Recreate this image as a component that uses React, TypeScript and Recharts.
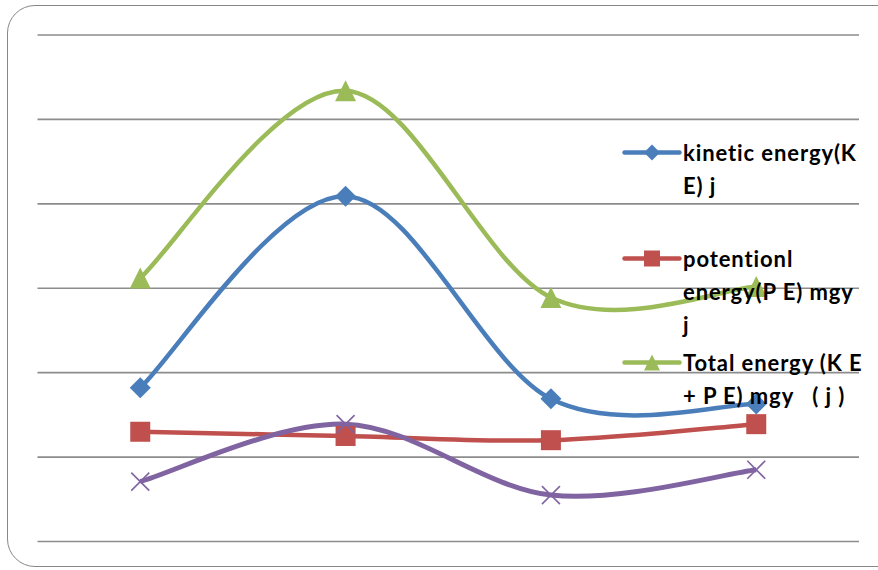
import { LineChart, Line, XAxis, YAxis, CartesianGrid, Legend } from 'recharts';

const points = ['1', '2', '3', '4'];
const kinetic = [18.2, 40.9, 16.9, 16.3];
const potential = [13.0, 12.5, 12.0, 13.9];
const total = [31.2, 53.4, 28.9, 30.2];
const fourth = [7.1, 13.9, 5.5, 8.5];
const yTicks = [0, 10, 20, 30, 40, 50, 60];

const legendLines = {
  kinetic: ['kinetic energy(K', 'E) j'],
  potential: ['potentionl', 'energy(P E) mgy', 'j'],
  total: ['Total energy (K E', '+ P E) mgy\u00a0\u00a0\u00a0( j )'],
};

const BLUE = '#4a7ebb';
const RED = '#c0504d';
const GREEN = '#9bbb59';
const PURPLE = '#8064a2';
const GRID = '#8c8c8c';

const data = points.map((p, i) => ({
  p,
  kinetic: kinetic[i],
  potential: potential[i],
  total: total[i],
  fourth: fourth[i],
}));

// Catmull-Rom style bezier, close to the office "smoothed line"
function smoothCurve(context: any) {
  let pts: [number, number][] = [];
  return {
    areaStart() {},
    areaEnd() {},
    lineStart() {
      pts = [];
    },
    lineEnd() {
      if (!pts.length) return;
      context.moveTo(pts[0][0], pts[0][1]);
      for (let i = 0; i < pts.length - 1; i++) {
        const p0 = pts[Math.max(i - 1, 0)];
        const p1 = pts[i];
        const p2 = pts[i + 1];
        const p3 = pts[Math.min(i + 2, pts.length - 1)];
        context.bezierCurveTo(
          p1[0] + (p2[0] - p0[0]) / 6,
          p1[1] + (p2[1] - p0[1]) / 6,
          p2[0] - (p3[0] - p1[0]) / 6,
          p2[1] - (p3[1] - p1[1]) / 6,
          p2[0],
          p2[1]
        );
      }
    },
    point(x: number, y: number) {
      pts.push([x, y]);
    },
  };
}

function Diamond({ cx, cy, r = 10, color = BLUE }: any) {
  if (cx == null || cy == null) return null;
  return <polygon points={`${cx},${cy - r} ${cx + r},${cy} ${cx},${cy + r} ${cx - r},${cy}`} fill={color} />;
}

function Square({ cx, cy, r = 10, color = RED }: any) {
  if (cx == null || cy == null) return null;
  return <rect x={cx - r} y={cy - r} width={r * 2} height={r * 2} fill={color} />;
}

function Triangle({ cx, cy, r = 10, color = GREEN }: any) {
  if (cx == null || cy == null) return null;
  return <polygon points={`${cx},${cy - r} ${cx + r},${cy + r} ${cx - r},${cy + r}`} fill={color} />;
}

function Cross({ cx, cy, r = 9, color = PURPLE }: any) {
  if (cx == null || cy == null) return null;
  return (
    <g stroke={color} strokeWidth={1.6}>
      <line x1={cx - r} y1={cy - r} x2={cx + r} y2={cy + r} />
      <line x1={cx - r} y1={cy + r} x2={cx + r} y2={cy - r} />
    </g>
  );
}

const legendItems = [
  { key: 'kinetic', color: BLUE, Marker: Diamond, top: 0, r: 8 },
  { key: 'potential', color: RED, Marker: Square, top: 106, r: 8 },
  { key: 'total', color: GREEN, Marker: Triangle, top: 210, r: 8 },
];

function EnergyLegend() {
  return (
    <div style={{ position: 'relative', width: 256, height: 290 }}>
      {legendItems.map(({ key, color, Marker, top, r }) => (
        <div key={key} style={{ position: 'absolute', left: 0, top }}>
          <svg width={60} height={33} style={{ position: 'absolute', left: 0, top: 0 }}>
            <line x1={2.5} y1={16.5} x2={57.5} y2={16.5} stroke={color} strokeWidth={4.5} strokeLinecap="round" />
            <Marker cx={30} cy={16.5} r={r} color={color} />
          </svg>
          <div
            style={{
              position: 'absolute',
              left: 61,
              top: 0,
              whiteSpace: 'nowrap',
              fontFamily: 'Lato, "Noto Sans", sans-serif',
              fontWeight: 700,
              fontSize: 22,
              letterSpacing: 0.9,
              lineHeight: '33px',
              color: '#000',
            }}
          >
            {legendLines[key as keyof typeof legendLines].map((t) => (
              <div key={t}>{t}</div>
            ))}
          </div>
        </div>
      ))}
    </div>
  );
}

export default function App() {
  return (
    <div style={{ position: 'relative', width: 878, height: 570, overflow: 'hidden', background: '#fff' }}>
      <style>{'body{margin:0}'}</style>
      <div
        style={{
          position: 'absolute',
          left: 7,
          top: 5,
          width: 1000,
          height: 562,
          border: '1.5px solid #878787',
          borderRadius: 28,
          boxSizing: 'border-box',
        }}
      />
      <div style={{ position: 'absolute', left: 0, top: 0 }}>
        <LineChart width={878} height={570} data={data} margin={{ top: 35, right: 19, bottom: 28.5, left: 37.5 }}>
          <CartesianGrid vertical={false} stroke={GRID} strokeWidth={1.6} />
          <XAxis dataKey="p" hide padding={{ left: 102.75, right: 102.75 }} />
          <YAxis hide domain={[0, 60]} ticks={yTicks} />
          <Line
            dataKey="kinetic"
            type={smoothCurve as any}
            stroke={BLUE}
            strokeWidth={4.5}
            dot={<Diamond r={10.5} color={BLUE} />}
            activeDot={false}
            isAnimationActive={false}
          />
          <Line
            dataKey="potential"
            type={smoothCurve as any}
            stroke={RED}
            strokeWidth={4.5}
            dot={<Square r={10} color={RED} />}
            activeDot={false}
            isAnimationActive={false}
          />
          <Line
            dataKey="total"
            type={smoothCurve as any}
            stroke={GREEN}
            strokeWidth={4.5}
            dot={<Triangle r={10.5} color={GREEN} />}
            activeDot={false}
            isAnimationActive={false}
          />
          <Line
            dataKey="fourth"
            type={smoothCurve as any}
            stroke={PURPLE}
            strokeWidth={5}
            dot={<Cross r={9} color={PURPLE} />}
            activeDot={false}
            isAnimationActive={false}
          />
          <Legend
            layout="vertical"
            align="center"
            verticalAlign="middle"
            content={<EnergyLegend />}
            wrapperStyle={{ left: 622, top: 135.5, width: 256 }}
          />
        </LineChart>
      </div>
    </div>
  );
}
